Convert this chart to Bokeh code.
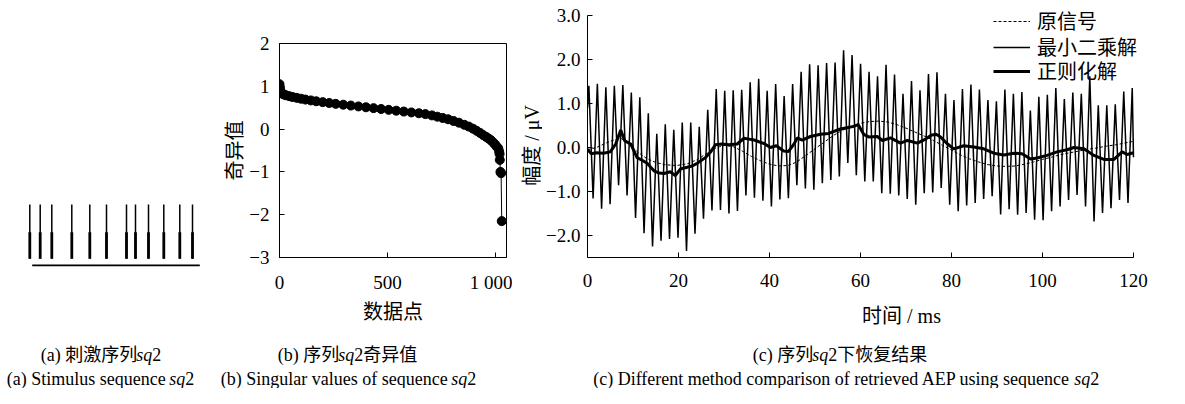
import math
from bokeh.plotting import figure
from bokeh.models import Range1d, FixedTicker, Legend, LegendItem
from bokeh.layouts import row, column
from bokeh.embed import file_html
from bokeh.resources import INLINE
from bokeh.core.properties import value

# ---------------- data ----------------
# (a) stimulus sequence sq2 (onsets, relative units)
stim_onsets = [0, 10.4, 22, 42, 60, 76.7, 96.7, 105.7, 118.7, 134, 150, 162.7]
stim_full = 1.0
stim_half = 0.49
stim_base_level = -0.12
stim_base_span = [2.4, 170.0]

# (b) singular values
sv_index = [0, 1, 2, 4, 7, 12, 20, 30, 45, 60, 80, 100, 120, 145, 170, 200, 230, 260, 295, 330,
            365, 400, 435, 470, 505, 540, 575, 610, 645, 675, 705, 730, 755, 780, 805, 830, 855, 875, 895, 912,
            928, 942, 955, 967, 978, 988, 997, 1005, 1012, 1016, 1018, 1019, 1022, 1025, 1028]
sv_value = [1.05, 0.98, 0.93, 0.88, 0.85, 0.83, 0.81, 0.79, 0.77, 0.75, 0.73, 0.71, 0.69, 0.67, 0.65, 0.63, 0.61, 0.59, 0.57, 0.55,
            0.53, 0.51, 0.49, 0.47, 0.45, 0.43, 0.41, 0.39, 0.37, 0.35, 0.32, 0.29, 0.26, 0.23, 0.19, 0.15, 0.10, 0.06, 0.01, -0.04,
            -0.09, -0.14, -0.18, -0.22, -0.26, -0.31, -0.36, -0.41, -0.45, -0.52, -0.58, -0.72, -1.00, -1.03, -2.15]
sv_x_ticks = [0, 500, 1000]
sv_x_labels = ["0", "500", "1 000"]
sv_y_ticks = [-3, -2, -1, 0, 1, 2]
sv_y_labels = ["\u22123", "\u22122", "\u22121", "0", "1", "2"]

# (c) original signal
orig_t = [0, 2, 4, 6, 7.5, 9, 11, 13, 15, 17, 19.5, 22, 24, 26, 28, 30, 32, 34, 36, 38,
          40, 42, 44, 46, 48, 50, 52, 54, 56, 58, 60, 62, 64, 66, 68, 70, 72, 74, 76, 78,
          80, 82, 84, 86, 88, 90, 92, 94, 96, 98, 100, 102, 104, 106, 108, 110, 112, 114, 116, 118, 120]
orig_v = [-0.05, 0.0, 0.1, 0.18, 0.2, 0.08, -0.1, -0.25, -0.34, -0.39, -0.41, -0.37, -0.28, -0.15, -0.02, 0.05, 0.02, -0.08, -0.2, -0.3,
          -0.38, -0.42, -0.41, -0.33, -0.18, -0.03, 0.12, 0.27, 0.39, 0.48, 0.55, 0.59, 0.6, 0.58, 0.52, 0.44, 0.35, 0.26, 0.16, 0.05,
          -0.06, -0.17, -0.26, -0.33, -0.39, -0.42, -0.43, -0.42, -0.38, -0.33, -0.27, -0.22, -0.16, -0.12, -0.08, -0.04, -0.01, 0.03, 0.06, 0.1, 0.14]

# (c) least-squares solution: oscillation peaks / troughs
ls_t0 = 0.3          # time of first peak (ms)
ls_period = 1.866    # oscillation period (ms)
ls_start = 0.9       # value at t = 0
ls_end = -0.22       # value at t = 120
ls_end_t = 120.0
ls_peaks = [1.40, 1.45, 1.37, 1.40, 1.42, 1.25, 1.14, 0.78, 0.31, 0.53,
            0.40, 0.57, 0.57, 0.47, 0.86, 1.33, 1.29, 1.30, 1.31, 1.48,
            1.56, 1.29, 1.44, 1.17, 1.44, 1.72, 1.89, 1.87, 1.92, 1.93,
            2.21, 2.10, 1.90, 1.72, 1.62, 1.88, 1.66, 1.22, 1.51, 1.30,
            1.67, 1.71, 1.22, 1.08, 1.33, 1.43, 1.32, 1.08, 1.05, 1.32,
            1.22, 1.26, 0.84, 1.15, 1.20, 1.35, 1.10, 1.25, 1.22, 1.62,
            0.96, 0.96, 0.98, 1.27, 1.35]
ls_troughs = [-1.16, -1.39, -1.29, -0.86, -1.09, -1.60, -1.95, -2.25, -2.12, -2.08,
              -2.05, -2.35, -1.96, -1.62, -1.43, -1.42, -1.50, -1.44, -1.09, -1.14,
              -1.21, -1.34, -1.18, -1.15, -0.86, -0.93, -0.96, -0.81, -0.74, -0.66,
              -0.35, -0.63, -0.77, -0.77, -1.04, -1.05, -1.09, -1.17, -1.30, -1.04,
              -1.02, -0.92, -1.30, -1.45, -1.32, -1.26, -1.17, -1.11, -1.52, -1.40,
              -1.53, -1.49, -1.64, -1.65, -1.45, -1.34, -1.19, -1.08, -1.34, -1.68,
              -1.49, -1.38, -1.19, -1.26]

# (c) regularized solution
reg_t = [0, 0.8, 2, 3.5, 5.0, 6.2, 7.3, 8.2, 9.5, 10.9, 12, 13.1, 14.6, 15.8, 16.8, 18.2, 19.3, 20.4, 21.9, 23,
         24.1, 25.9, 27.0, 28.1, 29.5, 31, 32.9, 34.4, 35.5, 36.6, 38.8, 40.2, 41.5, 43.1, 44.2, 45.4, 46.1, 47.2, 49, 51.2,
         53, 55.6, 57, 58.5, 59.5, 60.7, 61.8, 63.7, 64.8, 66.6, 68.8, 70.3, 72.5, 74.3, 75.5, 76.6, 77.6, 79.0, 80.5, 82.7,
         84.9, 87.1, 89.3, 91.5, 93.7, 95.5, 97.4, 98.8, 101.0, 103.2, 105.4, 106.9, 109.1, 111.3, 113.5, 115.7, 117.5, 118.6, 120]
reg_v = [-0.04, -0.14, -0.12, -0.13, -0.10, 0.08, 0.40, 0.15, 0.08, -0.23, -0.29, -0.36, -0.53, -0.58, -0.59, -0.55, -0.64, -0.49, -0.45, -0.42,
         -0.36, -0.23, -0.11, 0.06, 0.08, 0.06, 0.08, 0.21, 0.19, 0.17, 0.09, 0.0, 0.04, -0.08, -0.09, 0.08, 0.22, 0.17, 0.25, 0.30,
         0.32, 0.42, 0.45, 0.48, 0.52, 0.30, 0.24, 0.25, 0.16, 0.22, 0.10, 0.16, 0.10, 0.19, 0.28, 0.30, 0.24, 0.09, -0.03, 0.04,
         0.01, -0.03, -0.13, -0.17, -0.13, -0.14, -0.26, -0.24, -0.18, -0.10, -0.05, 0.0, -0.03, -0.18, -0.27, -0.27, -0.10, -0.16, -0.12]

c_x_ticks = [0, 20, 40, 60, 80, 100, 120]
c_x_bounds = (0, 120)
c_y_ticks = [-2, -1, 0, 1, 2, 3]
c_y_labels = ["\u22122.0", "\u22121.0", "0.0", "1.0", "2.0", "3.0"]
c_y_bounds = (-2.5, 3.0)
c_x_title = "时间 / ms"
c_y_title = "幅度 / μV"
legend_labels = ["原信号", "最小二乘解", "正则化解"]

captions = [
    [("(a) 刺激序列", "normal"), ("sq", "italic"), ("2", "normal")],
    [("(a) Stimulus sequence ", "normal"), ("sq", "italic"), ("2", "normal")],
    [("(b) 序列", "normal"), ("sq", "italic"), ("2奇异值", "normal")],
    [("(b) Singular values of sequence ", "normal"), ("sq", "italic"), ("2", "normal")],
    [("(c) 序列", "normal"), ("sq", "italic"), ("2下恢复结果", "normal")],
    [("(c) Different method comparison of retrieved AEP using sequence ", "normal"), ("sq", "italic"), ("2", "normal")],
]

# ---------------- styling helpers ----------------
SERIF = "Liberation Serif"
MIX = "Liberation Serif, Noto Sans CJK SC"
TICK_FS = "19px"
LAB_FS = "20px"


def style_axis(ax, standoff):
    ax.axis_line_color = "black"
    ax.axis_line_width = 1
    ax.major_tick_line_color = "black"
    ax.major_tick_in = 5
    ax.major_tick_out = 0
    ax.minor_tick_line_color = None
    ax.major_label_text_font = SERIF
    ax.major_label_text_font_size = TICK_FS
    ax.major_label_text_color = "black"
    ax.major_label_standoff = standoff
    ax.axis_label_text_font = MIX
    ax.axis_label_text_font_size = LAB_FS
    ax.axis_label_text_font_style = "normal"
    ax.axis_label_text_color = "black"


def no_align(p):
    if "frame_align" in p.properties():
        p.frame_align = False


def blank_fig(w, h, xr, yr):
    f = figure(width=w, height=h, output_backend="svg", toolbar_location=None,
               x_axis_location=None, y_axis_location=None,
               x_range=xr, y_range=yr, min_border=0, outline_line_color=None)
    f.xgrid.visible = False
    f.ygrid.visible = False
    no_align(f)
    return f


TOP_H = 330
A_W, B_W, YL_W = 217, 295, 30
C_W = 1169 - A_W - B_W - YL_W

# ---------------- (a) stimulus ----------------
pa = blank_fig(A_W, TOP_H, Range1d(-29.3, A_W - 29.3), Range1d(-1.32, 4.757))
n = len(stim_onsets)
pa.segment(x0=stim_onsets, y0=[0] * n, x1=stim_onsets, y1=[stim_full] * n, line_color="black", line_width=1.5)
pa.segment(x0=stim_onsets, y0=[0] * n, x1=stim_onsets, y1=[stim_half] * n, line_color="black", line_width=2.8)
pa.segment(x0=[stim_base_span[0]], y0=[stim_base_level], x1=[stim_base_span[1]], y1=[stim_base_level],
           line_color="black", line_width=1.6)

# ---------------- (b) singular values ----------------
pb = figure(width=B_W, height=TOP_H, output_backend="svg", toolbar_location=None,
            x_range=Range1d(0, 1050), y_range=Range1d(-3, 2),
            min_border_left=62, min_border_right=6, min_border_top=43, min_border_bottom=73,
            outline_line_color="black", outline_line_width=1)
no_align(pb)
pb.xgrid.visible = False
pb.ygrid.visible = False
style_axis(pb.xaxis[0], 14)
style_axis(pb.yaxis[0], 10)
pb.xaxis[0].ticker = FixedTicker(ticks=sv_x_ticks)
pb.xaxis[0].major_label_overrides = dict(zip(sv_x_ticks, sv_x_labels))
pb.yaxis[0].ticker = FixedTicker(ticks=sv_y_ticks)
pb.yaxis[0].major_label_overrides = dict(zip(sv_y_ticks, sv_y_labels))
pb.xaxis[0].axis_label = "数据点"
pb.xaxis[0].axis_label_standoff = 5
pb.yaxis[0].axis_label = "奇异值"
pb.yaxis[0].axis_label_standoff = 0
pb.line(sv_index, sv_value, line_color="black", line_width=1)
pb.scatter(sv_index, sv_value, size=9, fill_color="black", line_color="black")

# ---------------- (c) y-axis title strip (title sits below the axis centre in the reference) ----------------
pyl = blank_fig(YL_W, TOP_H, Range1d(0, YL_W), Range1d(0, TOP_H))
pyl.text(x=[19.0], y=[TOP_H - 145], text=[c_y_title], angle=math.pi / 2, text_font=value(MIX),
         text_font_size=value(LAB_FS), text_align="center", text_baseline="middle", text_color="black")

# ---------------- (c) recovery results ----------------
C_H = 300
C_LEFT, C_RIGHT, C_TOP, C_BOTTOM = 75 - YL_W, 19, 5, 43
PX_PER_MS = 4.55
PX_PER_UV = 44.0
c_x_end = (C_W - C_LEFT - C_RIGHT) / PX_PER_MS
c_y_end = c_y_bounds[0] + (C_H - C_TOP - C_BOTTOM) / PX_PER_UV
pc = figure(width=C_W, height=C_H, output_backend="svg", toolbar_location=None,
            x_range=Range1d(0, c_x_end), y_range=Range1d(c_y_bounds[0], c_y_end),
            min_border_left=C_LEFT, min_border_right=C_RIGHT, min_border_top=C_TOP, min_border_bottom=C_BOTTOM,
            outline_line_color=None)
no_align(pc)
pc.xgrid.visible = False
pc.ygrid.visible = False
style_axis(pc.xaxis[0], 16)
style_axis(pc.yaxis[0], 7)
pc.xaxis[0].ticker = FixedTicker(ticks=c_x_ticks)
pc.xaxis[0].bounds = c_x_bounds
pc.yaxis[0].ticker = FixedTicker(ticks=c_y_ticks)
pc.yaxis[0].bounds = c_y_bounds
pc.yaxis[0].major_label_overrides = dict(zip(c_y_ticks, c_y_labels))

ls_t = [0.0]
ls_v = [ls_start]
for k, pk in enumerate(ls_peaks):
    ls_t.append(ls_t0 + k * ls_period)
    ls_v.append(pk)
    if k < len(ls_troughs):
        ls_t.append(ls_t0 + (k + 0.5) * ls_period)
        ls_v.append(ls_troughs[k])
ls_t.append(ls_end_t)
ls_v.append(ls_end)

r_ls = pc.line(ls_t, ls_v, line_color="black", line_width=1.5)
r_orig = pc.line(orig_t, orig_v, line_color="black", line_width=1, line_dash="3 2")
r_reg = pc.line(reg_t, reg_v, line_color="black", line_width=3)

# one legend per entry so the row pitch matches the reference exactly
leg_renderers = [r_orig, r_ls, r_reg]
leg_bottoms = [222, 196, 172]   # px above the frame bottom
for lab, rend, vy in zip(legend_labels, leg_renderers, leg_bottoms):
    lg = Legend(items=[LegendItem(label=lab, renderers=[rend])],
                location=(406, vy), padding=0, margin=0, spacing=0,
                glyph_width=37, glyph_height=20, label_height=20, label_standoff=7,
                border_line_color=None, background_fill_alpha=0,
                label_text_font=MIX, label_text_font_size=LAB_FS, label_text_color="black")
    pc.add_layout(lg)

# x-axis title of (c), placed in a strip under the plot (it sits off-centre in the reference)
STRIP_H = TOP_H - C_H
pcx = blank_fig(C_W, STRIP_H, Range1d(0, C_W), Range1d(0, STRIP_H))
pcx.text(x=[901 - (A_W + B_W + YL_W)], y=[15], text=[c_x_title], text_font=value(MIX), text_font_size=value(LAB_FS),
         text_align="center", text_baseline="middle", text_color="black")

# ---------------- captions ----------------
CAP_W, CAP_H = 1169, 58
cap = blank_fig(CAP_W, CAP_H, Range1d(0, CAP_W), Range1d(0, CAP_H))

W = {' ': 250, '(': 333, ')': 333, 'a': 444, 'b': 500, 'c': 444, 'd': 500, 'e': 444, 'f': 333, 'g': 500,
     'h': 500, 'i': 278, 'l': 278, 'm': 778, 'n': 500, 'o': 500, 'p': 500, 'q': 500, 'r': 333, 's': 389,
     't': 278, 'u': 500, 'v': 500, 'y': 500, 'A': 722, 'D': 722, 'E': 611, 'P': 556, 'S': 556, '2': 500}
CAP_FS = 18.0


def text_w(s):
    return sum(W.get(ch, 1000) for ch in s) / 1000.0 * CAP_FS


cap_centers = [(101, 34), (100.5, 10), (347.5, 34), (348.5, 10), (840, 34), (846, 10)]
for pieces, (cx, cy) in zip(captions, cap_centers):
    total = sum(text_w(s) for s, _ in pieces)
    start = cx - total / 2.0
    (s0, st0), (s1, st1), (s2, st2) = pieces
    b1 = start + text_w(s0)          # left edge of the italic part
    cap.text(x=[start + text_w(s0.rstrip())], y=[cy], text=[s0.rstrip()], text_font=value(MIX),
             text_font_size=value("18px"), text_font_style=st0, text_align="right",
             text_baseline="middle", text_color="black")
    cap.text(x=[b1 - 1], y=[cy], text=[s1], text_font=value(MIX), text_font_size=value("18px"),
             text_font_style=st1, text_align="left", text_baseline="middle", text_color="black")
    cap.text(x=[b1 - 1 + text_w(s1)], y=[cy], text=[s2], text_font=value(MIX), text_font_size=value("18px"),
             text_font_style=st2, text_align="left", text_baseline="middle", text_color="black")

layout = column(row(pa, pb, pyl, column(pc, pcx)), cap)
open("out.html", "w").write(file_html(layout, INLINE))
